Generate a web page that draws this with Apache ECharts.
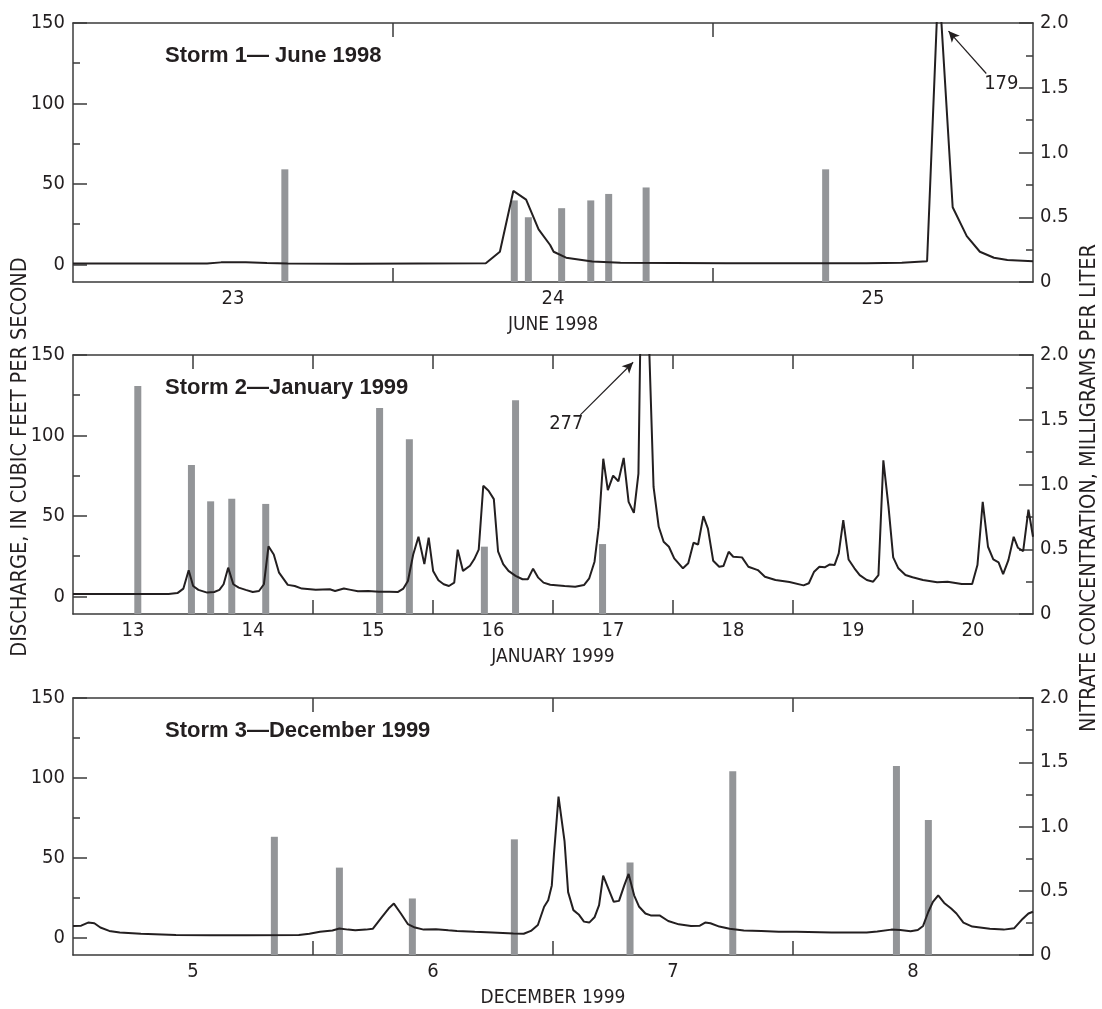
<!DOCTYPE html>
<html>
<head>
<meta charset="utf-8">
<title>Storm discharge and nitrate</title>
<script src="https://cdn.jsdelivr.net/npm/echarts@6/dist/echarts.min.js"></script>
<style>
    html, body { margin: 0; padding: 0; background: #fff; }
    #chart { width: 1102px; height: 1009px; }
</style>
</head>
<body>
<div id="chart"></div>
<script>
// x values are day of month (fraction of day), labels sit at noon

// Storm 1 - June 1998
var storm1Day = [23.000, 23.211, 23.419, 23.463, 23.540, 23.606, 23.671, 23.869, 24.290, 24.334,
    24.376, 24.416, 24.455, 24.491, 24.502, 24.541, 24.623, 24.711, 25.041, 25.480,
    25.590, 25.669, 25.705, 25.749, 25.793, 25.834, 25.878, 25.920, 26.000];
var storm1Discharge = [0.5, 0.5, 0.5, 1.2, 1.2, 0.8, 0.5, 0.4, 0.6, 7.8,
    45.6, 40.2, 21.7, 12.0, 7.8, 4.1, 1.7, 1.0, 0.6, 0.6,
    1.0, 1.9, 179, 35.5, 17.5, 7.8, 4.1, 2.7, 1.9];
var storm1SampleDay = [23.662, 24.379, 24.423, 24.527, 24.618, 24.674, 24.791, 25.352];
var storm1Nitrate = [0.87, 0.63, 0.50, 0.57, 0.63, 0.68, 0.73, 0.87];

// Storm 2 - January 1999
var storm2Day = [13.000, 13.797, 13.870, 13.920, 13.964, 14.001, 14.045, 14.118, 14.177, 14.220,
    14.255, 14.293, 14.336, 14.381, 14.439, 14.498, 14.550, 14.591, 14.629, 14.673,
    14.717, 14.790, 14.848, 14.907, 15.023, 15.140, 15.184, 15.257, 15.315, 15.374,
    15.461, 15.549, 15.636, 15.709, 15.753, 15.791, 15.835, 15.879, 15.928, 15.964,
    16.001, 16.045, 16.089, 16.133, 16.177, 16.206, 16.250, 16.308, 16.343, 16.381,
    16.419, 16.463, 16.507, 16.542, 16.585, 16.629, 16.688, 16.746, 16.790, 16.834,
    16.877, 16.921, 16.977, 17.097, 17.185, 17.258, 17.302, 17.346, 17.381, 17.419,
    17.457, 17.501, 17.545, 17.589, 17.630, 17.674, 17.712, 17.750, 17.838, 17.881,
    17.922, 17.966, 18.010, 18.083, 18.127, 18.171, 18.209, 18.253, 18.291, 18.335,
    18.385, 18.420, 18.464, 18.502, 18.575, 18.628, 18.707, 18.766, 18.854, 18.971,
    19.088, 19.132, 19.176, 19.220, 19.264, 19.307, 19.346, 19.381, 19.419, 19.463,
    19.512, 19.556, 19.615, 19.668, 19.712, 19.753, 19.796, 19.835, 19.878, 19.937,
    19.996, 20.083, 20.201, 20.288, 20.406, 20.493, 20.537, 20.581, 20.625, 20.669,
    20.713, 20.751, 20.795, 20.839, 20.874, 20.918, 20.962, 21.000];
var storm2Discharge = [1.5, 1.5, 2.0, 4.8, 16.2, 6.4, 4.0, 2.3, 2.7, 4.0,
    7.5, 17.8, 7.5, 5.4, 4.0, 2.7, 3.3, 7.5, 31.1, 26.0,
    14.7, 7.1, 6.4, 4.8, 4.0, 4.4, 3.3, 4.8, 4.0, 3.1,
    3.3, 2.9, 2.9, 2.7, 4.8, 9.5, 26.0, 37.0, 20.0, 36.5,
    15.8, 10.0, 7.5, 6.4, 8.5, 29.0, 15.8, 19.0, 23.0, 29.0,
    68.7, 65.6, 60.4, 28.0, 20.0, 15.8, 12.7, 10.6, 10.6, 17.2,
    11.6, 8.5, 7.2, 6.4, 6.0, 7.0, 11.2, 21.5, 43.0, 85.5,
    66.0, 75.0, 71.5, 86.0, 58.7, 51.9, 76.2, 277, 68.0, 43.2,
    33.9, 30.8, 23.6, 17.4, 20.5, 33.3, 32.2, 49.8, 42.1, 22.1,
    18.4, 18.8, 27.7, 24.6, 24.2, 18.4, 16.3, 12.2, 10.1, 8.9,
    6.8, 8.1, 15.3, 18.4, 18.0, 19.8, 19.4, 26.7, 47.3, 22.9,
    17.4, 13.2, 10.1, 9.1, 13.2, 84.5, 55.6, 24.2, 17.4, 13.2,
    11.8, 10.1, 8.7, 9.1, 7.6, 7.6, 19.4, 58.7, 30.8, 22.9,
    21.1, 13.8, 22.5, 37.0, 30.2, 28.1, 53.9, 37.0];
var storm2SampleDay = [13.540, 13.987, 14.147, 14.323, 14.606, 15.555, 15.803, 16.428, 16.688, 17.413];
var storm2Nitrate = [1.76, 1.15, 0.87, 0.89, 0.85, 1.59, 1.35, 0.52, 1.65, 0.54];

// Storm 3 - December 1999
var storm3Day = [5.000, 5.034, 5.063, 5.089, 5.114, 5.151, 5.195, 5.283, 5.429, 5.575,
    5.722, 5.941, 5.985, 6.029, 6.081, 6.110, 6.146, 6.176, 6.220, 6.249,
    6.286, 6.315, 6.337, 6.366, 6.395, 6.425, 6.461, 6.512, 6.564, 6.600,
    6.674, 6.747, 6.835, 6.878, 6.908, 6.937, 6.963, 6.980, 6.995, 7.004,
    7.023, 7.048, 7.063, 7.085, 7.107, 7.129, 7.151, 7.173, 7.192, 7.209,
    7.231, 7.253, 7.275, 7.297, 7.315, 7.338, 7.359, 7.385, 7.407, 7.444,
    7.480, 7.524, 7.575, 7.612, 7.634, 7.656, 7.693, 7.736, 7.795, 7.868,
    7.941, 8.015, 8.161, 8.307, 8.351, 8.410, 8.447, 8.490, 8.520, 8.542,
    8.564, 8.583, 8.605, 8.630, 8.659, 8.681, 8.710, 8.747, 8.820, 8.878,
    8.922, 8.952, 8.981, 9.000];
var storm3Discharge = [7.2, 7.4, 9.3, 8.9, 6.2, 4.1, 3.1, 2.3, 1.6, 1.4,
    1.4, 1.6, 2.3, 3.5, 4.3, 5.6, 4.9, 4.5, 4.9, 5.4,
    12.6, 18.1, 21.2, 15.0, 8.4, 6.2, 4.9, 5.2, 4.5, 4.1,
    3.5, 3.1, 2.5, 2.3, 4.1, 7.8, 19.2, 23.3, 32.6, 52.1,
    88.2, 60.4, 28.4, 17.1, 14.4, 9.9, 9.3, 12.6, 20.2, 38.7,
    30.5, 22.3, 22.9, 32.6, 39.8, 26.4, 19.2, 15.0, 13.8, 13.8,
    10.3, 8.2, 7.2, 7.4, 9.3, 8.9, 6.8, 5.4, 4.3, 4.1,
    3.5, 3.5, 3.1, 3.1, 3.7, 4.9, 4.7, 3.9, 4.7, 7.2,
    16.1, 22.3, 26.4, 21.6, 18.1, 15.0, 9.3, 6.8, 5.4, 4.9,
    5.8, 10.9, 15.0, 16.1];
var storm3SampleDay = [5.839, 6.110, 6.414, 6.839, 7.321, 7.749, 8.431, 8.564];
var storm3Nitrate = [0.92, 0.68, 0.44, 0.90, 0.72, 1.43, 1.47, 1.05];

var panelTitles = ['Storm 1\u2014 June 1998', 'Storm 2\u2014January 1999', 'Storm 3\u2014December 1999'];
var monthLabels = ['JUNE 1998', 'JANUARY 1999', 'DECEMBER 1999'];
var dayRanges = [[23, 26], [13, 21], [5, 9]];
var dischargeTicks = [0, 50, 100, 150];
var dischargeMinorTicks = [25, 75, 125];
var nitrateTicks = [0, 0.5, 1.0, 1.5, 2.0];
var nitrateMinorTicks = [0.25, 0.75, 1.25, 1.75];

// off-scale peaks: label spot and arrow (day, nitrate-axis units)
var peakLabels = ['179', '277'];
var peakLabelAt = [[25.901, 1.533], [17.111, 1.469]];
var peakArrowFrom = [[25.854, 1.61], [17.228, 1.538]];
var peakArrowTo = [[25.736, 1.938], [17.668, 1.944]];

var storms = [
    {day: storm1Day, q: storm1Discharge, sDay: storm1SampleDay, no3: storm1Nitrate},
    {day: storm2Day, q: storm2Discharge, sDay: storm2SampleDay, no3: storm2Nitrate},
    {day: storm3Day, q: storm3Discharge, sDay: storm3SampleDay, no3: storm3Nitrate}
];

var FONT = "'Liberation Sans Narrow', 'DejaVu Sans Condensed', 'Liberation Sans', sans-serif";
var INK = '#231f20';
var FRAME = '#3b3b3b';
var panelTop = [23, 355, 698];

function pairs(xs, ys) {
    return xs.map(function (x, i) { return [x, ys[i]]; });
}

var grids = [], xAxes = [], yAxes = [], series = [], titles = [];

for (var p = 0; p < 3; p++) {
    var lo = dayRanges[p][0], hi = dayRanges[p][1];
    var midnights = [], noons = [];
    for (var d = lo; d < hi; d++) {
        noons.push(d + 0.5);
        if (d > lo) midnights.push(d);
    }

    grids.push({left: 73, top: panelTop[p], width: 960, height: 259});

    titles.push({
        text: panelTitles[p],
        left: 165,
        top: panelTop[p] + 22,
        padding: 0,
        textStyle: {fontFamily: "'Liberation Sans', Arial, sans-serif", fontWeight: 'bold', fontSize: 22, color: INK}
    });

    // bottom axis: labels at noon, ticks at midnight
    xAxes.push({
        type: 'value', gridIndex: p, min: lo, max: hi, position: 'bottom',
        axisLine: {show: true, onZero: false, lineStyle: {color: FRAME, width: 1.5}},
        axisTick: {show: true, inside: true, length: 14, customValues: midnights, lineStyle: {color: FRAME, width: 1.5}},
        axisLabel: {
            customValues: noons, margin: 7, color: INK, fontFamily: FONT, fontSize: 20,
            formatter: function (v) { return String(Math.floor(v)); }
        },
        splitLine: {show: false},
        name: monthLabels[p], nameLocation: 'middle', nameGap: 34,
        nameTextStyle: {color: INK, fontFamily: FONT, fontSize: 19}
    });
    // top frame with ticks
    xAxes.push({
        type: 'value', gridIndex: p, min: lo, max: hi, position: 'top',
        axisLine: {show: true, onZero: false, lineStyle: {color: FRAME, width: 1.5}},
        axisTick: {show: true, inside: true, length: 14, customValues: midnights, lineStyle: {color: FRAME, width: 1.5}},
        axisLabel: {show: false},
        splitLine: {show: false}
    });

    // discharge axis (left)
    yAxes.push({
        type: 'value', gridIndex: p, min: -11, max: 150, position: 'left', offset: 0,
        axisLine: {show: true, onZero: false, lineStyle: {color: FRAME, width: 1.5}},
        axisTick: {show: true, inside: true, length: 14, customValues: dischargeTicks, lineStyle: {color: FRAME, width: 1.5}},
        axisLabel: {customValues: dischargeTicks, margin: 8, color: INK, fontFamily: FONT, fontSize: 20},
        splitLine: {show: false}
    });
    yAxes.push({
        type: 'value', gridIndex: p, min: -11, max: 150, position: 'left', offset: 0,
        axisLine: {show: false},
        axisTick: {show: true, inside: true, length: 7, customValues: dischargeMinorTicks, lineStyle: {color: FRAME, width: 1.5}},
        axisLabel: {show: false},
        splitLine: {show: false}
    });
    // nitrate axis (right)
    yAxes.push({
        type: 'value', gridIndex: p, min: 0, max: 2, position: 'right', offset: 0,
        axisLine: {show: true, onZero: false, lineStyle: {color: FRAME, width: 1.5}},
        axisTick: {show: true, inside: true, length: 14, customValues: nitrateTicks, lineStyle: {color: FRAME, width: 1.5}},
        axisLabel: {
            customValues: nitrateTicks, margin: 7, color: INK, fontFamily: FONT, fontSize: 20,
            formatter: function (v) { return v === 0 ? '0' : v.toFixed(1); }
        },
        splitLine: {show: false}
    });
    yAxes.push({
        type: 'value', gridIndex: p, min: 0, max: 2, position: 'right', offset: 0,
        axisLine: {show: false},
        axisTick: {show: true, inside: true, length: 7, customValues: nitrateMinorTicks, lineStyle: {color: FRAME, width: 1.5}},
        axisLabel: {show: false},
        splitLine: {show: false}
    });

    var s = storms[p];
    var barSeries = {
        type: 'bar',
        xAxisIndex: 2 * p,
        yAxisIndex: 4 * p + 2,
        barWidth: 7,
        itemStyle: {color: '#939598'},
        z: 2,
        data: pairs(s.sDay, s.no3)
    };
    if (p < 2) {
        barSeries.markLine = {
            silent: true,
            symbol: ['none', 'arrow'],
            symbolSize: [8, 11],
            label: {show: false},
            lineStyle: {color: INK, width: 1.2, type: 'solid'},
            data: [[{coord: peakArrowFrom[p]}, {coord: peakArrowTo[p]}]]
        };
        barSeries.markPoint = {
            silent: true,
            symbol: 'circle',
            symbolSize: 1,
            itemStyle: {color: 'rgba(0,0,0,0)'},
            label: {show: true, position: 'inside', formatter: peakLabels[p], color: INK, fontFamily: FONT, fontSize: 20},
            data: [{coord: peakLabelAt[p]}]
        };
    }
    series.push(barSeries);

    series.push({
        type: 'line',
        xAxisIndex: 2 * p,
        yAxisIndex: 4 * p,
        symbol: 'none',
        clip: true,
        lineStyle: {color: INK, width: 2},
        z: 3,
        data: pairs(s.day, s.q)
    });
}

var option = {
    animation: false,
    backgroundColor: '#fff',
    title: titles,
    grid: grids,
    xAxis: xAxes,
    yAxis: yAxes,
    series: series,
    graphic: [
        {
            type: 'text', x: 20, y: 457, rotation: Math.PI / 2,
            style: {text: 'DISCHARGE, IN CUBIC FEET PER SECOND', font: "21.5px 'Liberation Sans Narrow', 'DejaVu Sans Condensed', sans-serif",
                fill: INK, textAlign: 'center', textVerticalAlign: 'middle'}
        },
        {
            type: 'text', x: 1089, y: 488, rotation: Math.PI / 2,
            style: {text: 'NITRATE CONCENTRATION, MILLIGRAMS PER LITER', font: "21.5px 'Liberation Sans Narrow', 'DejaVu Sans Condensed', sans-serif",
                fill: INK, textAlign: 'center', textVerticalAlign: 'middle'}
        }
    ]
};

var myChart = echarts.init(document.getElementById('chart'));
myChart.setOption(option);

window.addEventListener('resize', function () {
    myChart.resize();
});
</script>
</body>
</html>
